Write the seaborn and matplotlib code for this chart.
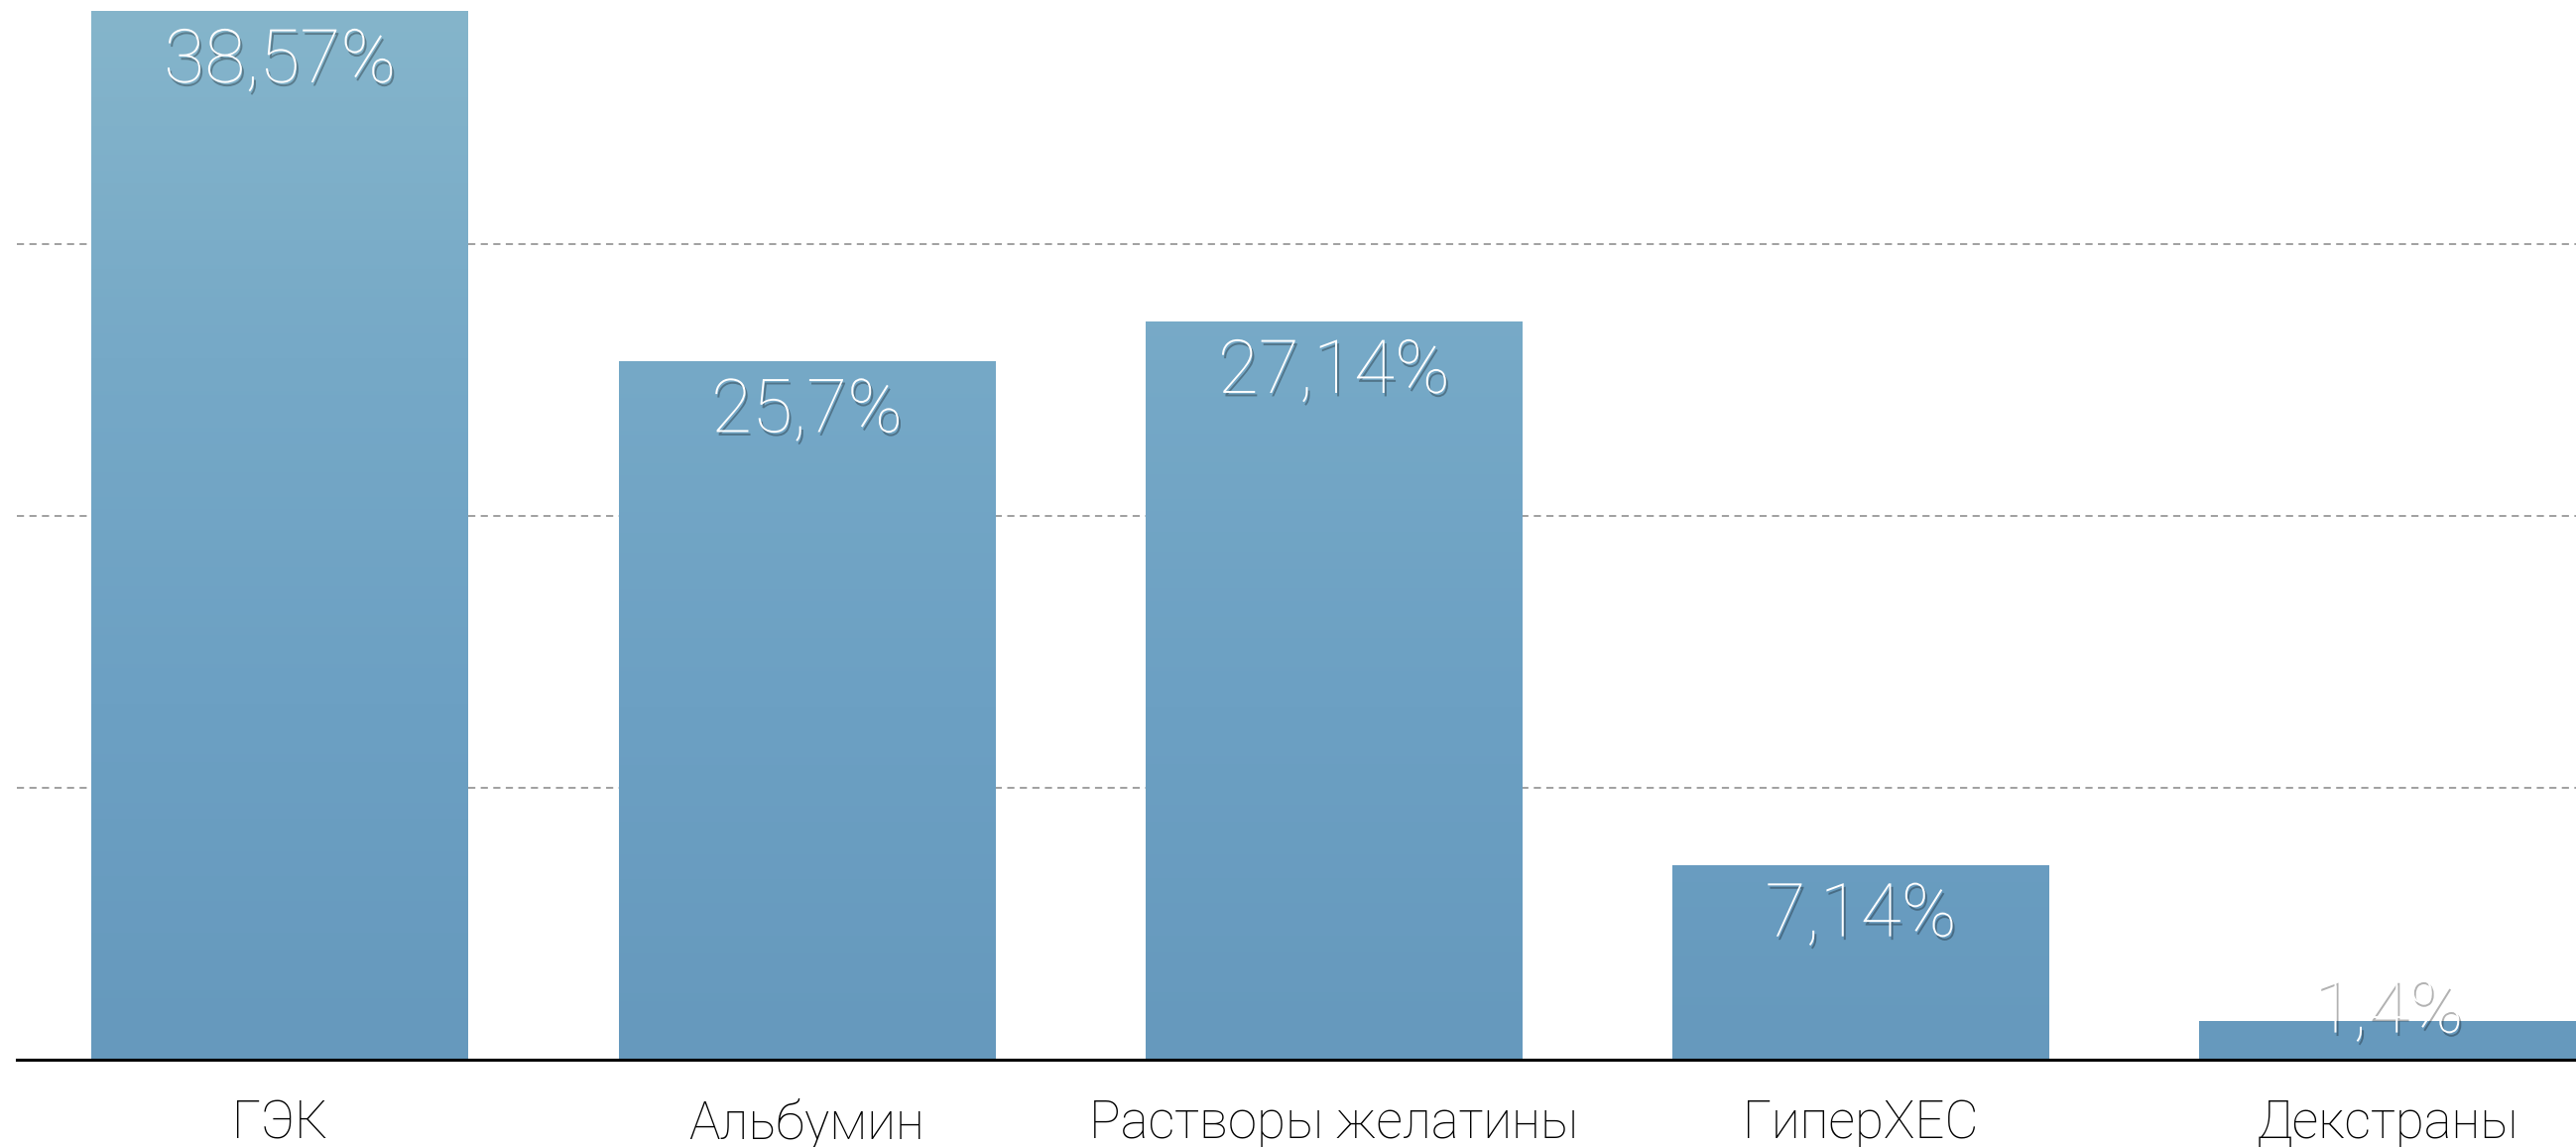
import numpy as np
import pandas as pd
import matplotlib
matplotlib.use("Agg")
import matplotlib.pyplot as plt
import seaborn as sns
from matplotlib import patheffects as pe
from matplotlib.colors import LinearSegmentedColormap

categories = ["ГЭК", "Альбумин", "Растворы желатины", "ГиперХЕС", "Декстраны"]
values = [38.57, 25.7, 27.14, 7.14, 1.4]
value_labels = ["38,57%", "25,7%", "27,14%", "7,14%", "1,4%"]
grid_ticks = [10, 20, 30]

sns.set_theme(style="white")
plt.rcParams['font.family'] = ['Roboto', 'DejaVu Sans']

fig = plt.figure(figsize=(25.97, 11.56), dpi=100)
ax = fig.add_axes([0.0064, 0.0761, 0.9936, 0.9239])
df = pd.DataFrame({"cat": categories, "val": values})
sns.barplot(data=df, x="cat", y="val", color="#6c9fc1", width=0.715,
            saturation=1, ax=ax, edgecolor="none", linewidth=0)

YMAX = 39
cmap = LinearSegmentedColormap.from_list("paint", ["#6699bd", "#6ca0c3", "#76a9c7", "#85b5cb"])
for p in ax.patches:
    x0, y0 = p.get_x(), p.get_y()
    w, h = p.get_width(), p.get_height()
    grad = np.linspace(h / YMAX, 0, 64).reshape(-1, 1)
    ax.imshow(grad, extent=[x0, x0 + w, y0, y0 + h], aspect="auto", cmap=cmap,
              vmin=0, vmax=1, zorder=p.get_zorder() + 0.1, interpolation="bilinear")

shadow = [pe.SimplePatchShadow(offset=(1.5, -2.5), shadow_rgbFace="black", alpha=0.3), pe.Normal()]
for i, (v, lab) in enumerate(zip(values, value_labels)):
    ax.text(i, max(v - 1.85, 1.75), lab, ha="center", va="center", color="white",
            fontsize=54, fontweight="light", zorder=10, path_effects=shadow)

ax.set_xlim(-0.5, 4.357)
ax.set_ylim(0, YMAX)
ax.set_yticks(grid_ticks)
ax.set_yticklabels([])
ax.yaxis.grid(True, linestyle=(0, (4, 3)), color="#999999", linewidth=1.3)
ax.xaxis.grid(False)
ax.set_axisbelow(True)
for s in ["top", "right", "left"]:
    ax.spines[s].set_visible(False)
ax.spines["bottom"].set_color("black")
ax.spines["bottom"].set_linewidth(2.2)
ax.spines["bottom"].set_zorder(20)
ax.tick_params(axis="both", length=0)
ax.tick_params(axis="x", pad=28, labelsize=38, labelcolor="black")
for t in ax.get_xticklabels():
    t.set_fontweight("light")
ax.set_xlabel("")
ax.set_ylabel("")

fig.savefig("out.png", dpi=100)
